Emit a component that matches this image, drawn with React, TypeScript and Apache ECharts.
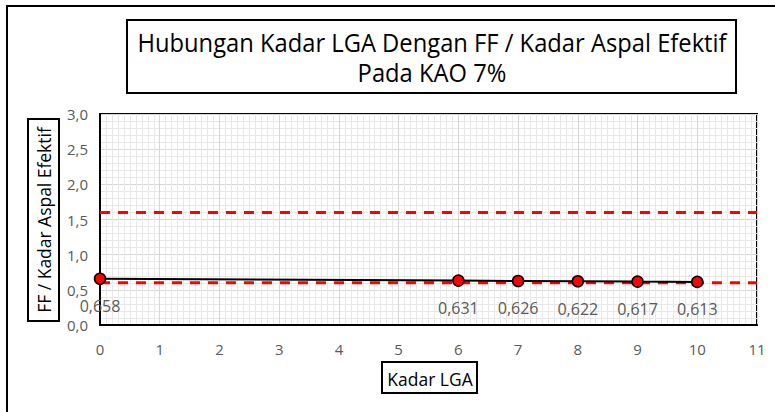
import React, { useEffect, useRef } from "react";
import * as echarts from "echarts";

const xValues = [0, 6, 7, 8, 9, 10];
const ffValues = [0.658, 0.631, 0.626, 0.622, 0.617, 0.613];
const upperLimit = 1.6;
const lowerLimit = 0.6;
const limitX = [0, 11];
const titleLines = ["Hubungan Kadar LGA Dengan FF / Kadar Aspal Efektif", "Pada KAO 7%"];
const xTitle = "Kadar LGA";
const yTitle = "FF / Kadar Aspal Efektif";

const FONT = "'Open Sans', sans-serif";
const fmt = (v: number, d: number) => v.toFixed(d).replace(".", ",");

export default function App() {
  const ref = useRef<HTMLDivElement>(null);
  useEffect(() => {
    if (!ref.current) return;
    const chart = echarts.init(ref.current, undefined, { renderer: "svg" });
    const mainData = xValues.map((x, i) => [x, ffValues[i]]);
    const limitLine = (y: number) => limitX.map((x) => [x, y]);
    chart.setOption({
      animation: false,
      backgroundColor: "#ffffff",
      grid: {
        left: 100,
        right: 18,
        top: 114,
        bottom: 87,
        show: true,
        borderColor: "#000",
        borderWidth: 2,
        backgroundColor: "transparent",
      },
      xAxis: {
        type: "value",
        min: 0,
        max: 11,
        interval: 1,
        axisLine: { show: true, lineStyle: { color: "#000", width: 2 } },
        axisTick: { show: false },
        axisLabel: { color: "#595959", fontSize: 15, fontFamily: FONT, margin: 16 },
        splitLine: { show: true, lineStyle: { color: "#d6d6d6", width: 1 } },
        minorTick: { show: false, splitNumber: 10 },
        minorSplitLine: { show: true, lineStyle: { color: "#e8e8e8", width: 1 } },
      },
      yAxis: {
        type: "value",
        min: 0,
        max: 3,
        interval: 0.5,
        axisLine: { show: true, lineStyle: { color: "#000", width: 2 } },
        axisTick: { show: false },
        axisLabel: {
          color: "#595959",
          fontSize: 15,
          fontFamily: FONT,
          margin: 12,
          formatter: (v: number) => fmt(v, 1),
        },
        splitLine: { show: true, lineStyle: { color: "#d6d6d6", width: 1 } },
        minorTick: { show: false, splitNumber: 5 },
        minorSplitLine: { show: true, lineStyle: { color: "#e8e8e8", width: 1 } },
      },
      series: [
        {
          type: "line",
          data: limitLine(upperLimit),
          symbol: "none",
          lineStyle: { color: "#ff0000", width: 3, type: [10, 8] },
          z: 3,
        },
        {
          type: "line",
          data: limitLine(lowerLimit),
          symbol: "none",
          lineStyle: { color: "#ff0000", width: 3, type: [10, 8] },
          z: 3,
        },
        {
          type: "line",
          data: mainData,
          symbol: "circle",
          symbolSize: 11,
          lineStyle: { color: "#000", width: 2 },
          itemStyle: { color: "#ff0000", borderColor: "#000", borderWidth: 1.5 },
          label: {
            show: true,
            position: "bottom",
            distance: 13,
            color: "#595959",
            fontSize: 16,
            fontFamily: FONT,
            formatter: (p: any) => fmt(p.value[1], 3),
          },
          z: 4,
        },
      ],
      graphic: [
        {
          type: "rect",
          shape: { x: 7, y: 6, width: 800, height: 450 },
          style: { fill: "none", stroke: "#000", lineWidth: 2 },
          silent: true,
        },
        {
          type: "rect",
          shape: { x: 127, y: 20, width: 609, height: 73 },
          style: { fill: "#fff", stroke: "#000", lineWidth: 2 },
        },
        {
          type: "text",
          x: 432,
          y: 42,
          scaleX: 0.95,
          style: {
            text: titleLines[0],
            fontSize: 25,
            fontFamily: FONT,
            fill: "#000",
            align: "center",
            verticalAlign: "middle",
          },
        },
        {
          type: "text",
          x: 432,
          y: 72,
          scaleX: 0.95,
          style: {
            text: titleLines[1],
            fontSize: 25,
            fontFamily: FONT,
            fill: "#000",
            align: "center",
            verticalAlign: "middle",
          },
        },
        {
          type: "rect",
          shape: { x: 28, y: 119, width: 31, height: 202 },
          style: { fill: "#fff", stroke: "#000", lineWidth: 2 },
        },
        {
          type: "text",
          x: 44,
          y: 220,
          rotation: Math.PI / 2,
          scaleX: 0.97,
          style: {
            text: yTitle,
            fontSize: 18,
            fontFamily: FONT,
            fill: "#000",
            align: "center",
            verticalAlign: "middle",
          },
        },
        {
          type: "rect",
          shape: { x: 382, y: 362, width: 95, height: 31 },
          style: { fill: "#fff", stroke: "#000", lineWidth: 2 },
        },
        {
          type: "text",
          x: 430,
          y: 378,
          scaleX: 0.92,
          style: {
            text: xTitle,
            fontSize: 19,
            fontFamily: FONT,
            fill: "#000",
            align: "center",
            verticalAlign: "middle",
          },
        },
      ],
    });
    return () => chart.dispose();
  }, []);
  return (
    <div
      ref={ref}
      style={{ position: "fixed", left: 0, top: 0, width: 775, height: 412 }}
    />
  );
}
